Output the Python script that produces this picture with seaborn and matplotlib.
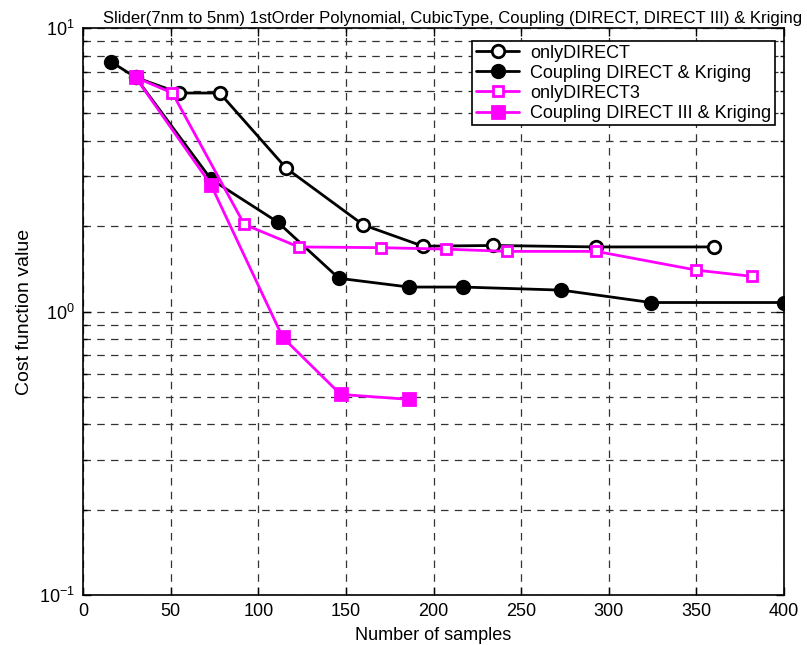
import matplotlib
matplotlib.use("Agg")
import matplotlib.pyplot as plt
import seaborn as sns
import numpy as np
import pandas as pd
from matplotlib.ticker import LogLocator, FixedLocator, NullFormatter

# ---- data ----
only_direct_x = [30, 55, 78, 116, 160, 194, 234, 293, 360]
only_direct_y = [6.7, 5.9, 5.9, 3.2, 2.02, 1.7, 1.71, 1.69, 1.69]

coup_direct_x = [16, 30, 73, 111, 146, 186, 217, 273, 324, 400]
coup_direct_y = [7.6, 6.7, 2.93, 2.07, 1.31, 1.22, 1.22, 1.19, 1.076, 1.076]

only_direct3_x = [30, 51, 92, 123, 170, 207, 242, 293, 350, 382]
only_direct3_y = [6.7, 5.9, 2.03, 1.69, 1.68, 1.66, 1.63, 1.63, 1.40, 1.33]

coup_direct3_x = [30, 73, 114, 147, 186]
coup_direct3_y = [6.7, 2.8, 0.81, 0.51, 0.49]

labels = ["onlyDIRECT", "Coupling DIRECT & Kriging", "onlyDIRECT3",
          "Coupling DIRECT III & Kriging"]
xticks = [0, 50, 100, 150, 200, 250, 300, 350, 400]
title = "Slider(7nm to 5nm) 1stOrder Polynomial, CubicType, Coupling (DIRECT, DIRECT III) & Kriging"

sns.set_theme(style="white")
plt.rcParams['font.family'] = ['Liberation Sans', 'DejaVu Sans']
plt.rcParams['text.color'] = 'black'
plt.rcParams['axes.labelcolor'] = 'black'
plt.rcParams['xtick.color'] = 'black'
plt.rcParams['ytick.color'] = 'black'
plt.rcParams['mathtext.fontset'] = 'custom'
plt.rcParams['mathtext.rm'] = 'Liberation Sans'

fig = plt.figure(figsize=(8.07, 6.45), dpi=100)
ax = fig.add_axes([0.1029, 0.0775, 0.8686, 0.879])

series = [
    (only_direct_x, only_direct_y, labels[0], 'black', 'o', 'white', 9),
    (coup_direct_x, coup_direct_y, labels[1], 'black', 'o', 'black', 9),
    (only_direct3_x, only_direct3_y, labels[2], '#ff00ff', 's', 'white', 7.5),
    (coup_direct3_x, coup_direct3_y, labels[3], '#ff00ff', 's', '#ff00ff', 8),
]
for xs, ys, lab, col, mk, mfc, ms in series:
    df = pd.DataFrame({"x": xs, "y": ys})
    sns.lineplot(data=df, x="x", y="y", ax=ax, sort=False, color=col,
                 marker=mk, markersize=ms, markerfacecolor=mfc,
                 markeredgecolor=col, markeredgewidth=2, linewidth=2,
                 label=lab, zorder=3)

ax.set_yscale('log')
ax.set_ylim(0.1, 10)
ax.set_xlim(0, 400)
ax.set_xticks(xticks)
ax.set_xticklabels([str(t) for t in xticks], fontsize=13)
ax.yaxis.set_major_locator(FixedLocator([0.1, 1, 10]))
ax.yaxis.set_minor_locator(LogLocator(base=10, subs=np.arange(2, 10)))
ax.yaxis.set_minor_formatter(NullFormatter())
ax.set_yticks([0.1, 1, 10])
ax.set_yticklabels([r'$\mathregular{10^{-1}}$', r'$\mathregular{10^{0}}$', r'$\mathregular{10^{1}}$'],
                   fontsize=13)

ax.grid(True, which='major', axis='both', linestyle=(0, (6, 5)), color='#333333', linewidth=0.9)
ax.grid(True, which='minor', axis='y', linestyle=(0, (6, 5)), color='#333333', linewidth=0.9)
ax.tick_params(which='both', direction='in', top=True, right=True, length=6,
               width=1, color='black', bottom=True, left=True, pad=6)
ax.tick_params(which='minor', length=3)
for sp in ax.spines.values():
    sp.set_color('black')
    sp.set_linewidth(1.2)

ax.set_xlabel("Number of samples", fontsize=13, labelpad=5)
ax.set_ylabel("Cost function value", fontsize=14, labelpad=4)
fig.text(802 / 807, 1 - 18 / 645, title, fontsize=12, ha='right', va='center')

leg = ax.legend(loc='upper right', bbox_to_anchor=(775 / 807, 1 - 41 / 645),
                bbox_transform=fig.transFigure, fontsize=13, frameon=True,
                fancybox=False, edgecolor='black', framealpha=1, borderpad=0.2,
                labelspacing=0.17, handlelength=2.4, handletextpad=0.6,
                borderaxespad=0)
leg.get_frame().set_linewidth(1.2)

fig.savefig("out.png", dpi=100)
